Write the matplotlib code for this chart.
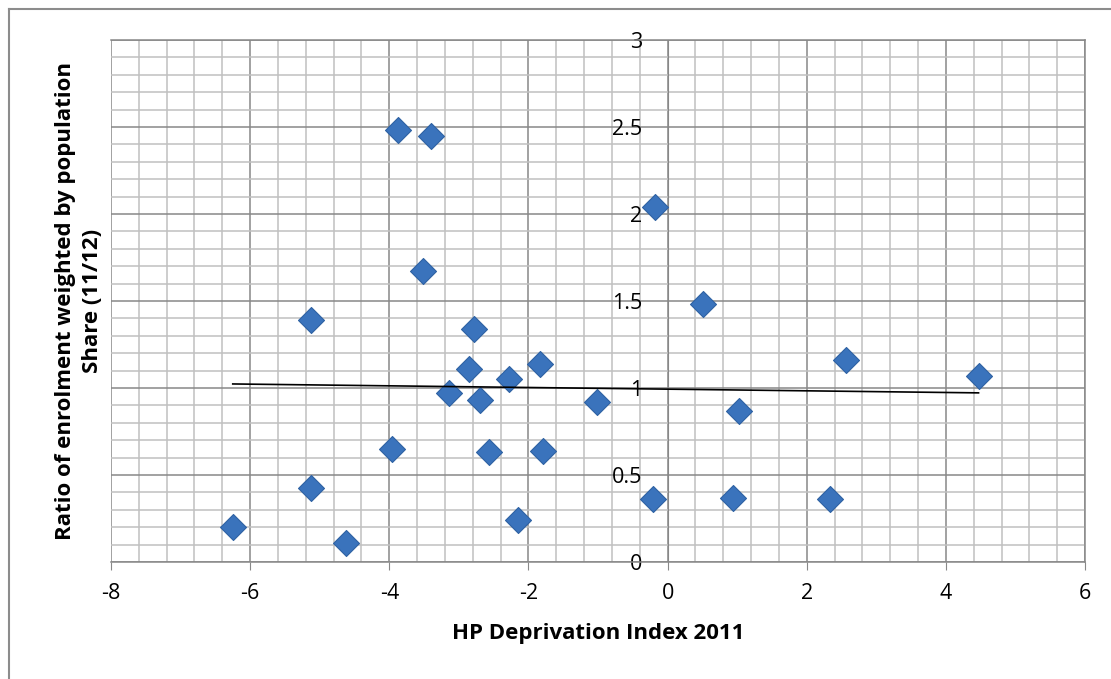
import numpy as np
import matplotlib.pyplot as plt
from matplotlib.ticker import MultipleLocator
from matplotlib.lines import Line2D

# data
hp_index = [-6.25, -5.13, -5.13, -4.62, -3.96, -3.88, -3.40, -3.52, -3.14,
            -2.86, -2.78, -2.70, -2.57, -2.28, -2.15, -1.84, -1.79, -1.02,
            -0.21, -0.18, 0.51, 0.94, 1.02, 2.33, 2.56, 4.47]
ratio = [0.20, 0.425, 1.39, 0.11, 0.65, 2.48, 2.45, 1.67, 0.97,
         1.11, 1.34, 0.93, 0.63, 1.05, 0.24, 1.14, 0.64, 0.92,
         0.36, 2.04, 1.48, 0.37, 0.87, 0.36, 1.16, 1.07]

x_ticks = [-8, -6, -4, -2, 0, 2, 4, 6]
y_ticks = [0, 0.5, 1, 1.5, 2, 2.5, 3]
y_labels = ['0', '0.5', '1', '1.5', '2', '2.5', '3']

plt.rcParams['font.family'] = ['Open Sans', 'DejaVu Sans']

fig = plt.figure(figsize=(11.11, 6.79), dpi=100)
ax = fig.add_axes([111/1111, 117/679, 974/1111, 522/679])

# outer chart border (left and top only visible)
fig.add_artist(Line2D([9/1111, 9/1111], [0, 1 - 9/679], transform=fig.transFigure,
                      color='#8c8c8c', lw=1.5))
fig.add_artist(Line2D([9/1111, 1], [1 - 9/679, 1 - 9/679], transform=fig.transFigure,
                      color='#8c8c8c', lw=1.5))

ax.set_xlim(-8, 6)
ax.set_ylim(0, 3)
ax.xaxis.set_major_locator(MultipleLocator(2))
ax.xaxis.set_minor_locator(MultipleLocator(0.4))
ax.yaxis.set_major_locator(MultipleLocator(0.5))
ax.yaxis.set_minor_locator(MultipleLocator(0.1))
ax.grid(which='minor', color='#c0c0c0', lw=1.1, zorder=0)
ax.grid(which='major', color='#888888', lw=1.1, zorder=0)
ax.set_axisbelow(True)

for s in ['top', 'right', 'bottom']:
    ax.spines[s].set_color('#888888')
    ax.spines[s].set_linewidth(1.1)
ax.spines['left'].set_position(('data', 0))
ax.spines['left'].set_color('#888888')

ax.set_xticks(x_ticks)
ax.set_xticklabels([str(t) for t in x_ticks])
ax.set_yticks(y_ticks)
ax.set_yticklabels(y_labels)
ax.tick_params(axis='x', which='major', length=6, color='#888888', pad=9, labelsize=15.5)
ax.tick_params(axis='x', which='minor', length=0)
ax.tick_params(axis='y', which='both', length=0, pad=18, labelsize=15.5)

ax.scatter(hp_index, ratio, marker='D', s=175, color='#3a73bc', edgecolor='#2f62a3',
           linewidths=0.8, zorder=3)

# linear trendline
k, b = np.polyfit(hp_index, ratio, 1)
xs = np.array([min(hp_index), max(hp_index)])
ax.plot(xs, k * xs + b, color='black', lw=1.2, zorder=4)

ax.set_xlabel('HP Deprivation Index 2011', fontsize=16, fontweight='bold', labelpad=14)
fig.text(79/1111, 1 - 301/679, 'Ratio of enrolment weighted by population\nShare (11/12)',
         rotation=90, ha='center', va='center', fontsize=16, fontweight='bold',
         linespacing=1.4)

fig.savefig('out.png', dpi=100)
